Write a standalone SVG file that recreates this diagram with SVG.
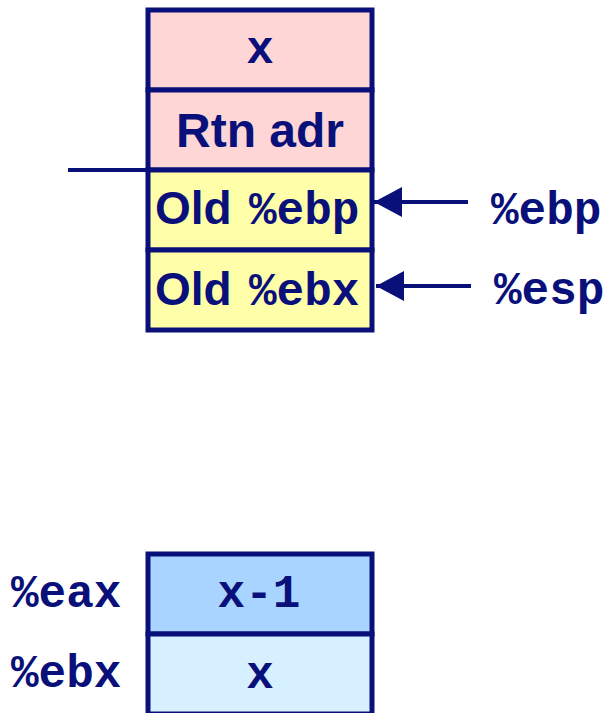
<svg xmlns="http://www.w3.org/2000/svg" width="614" height="713" viewBox="0 0 614 713">
  <defs>
    <style>
      .cell { stroke: #0A107A; stroke-width: 5; }
      .pink { fill: #FFD6D6; }
      .yellow { fill: #FFFFAA; }
      .blue { fill: #A8D4FF; }
      .lblue { fill: #D6F0FF; }
      .sans { font-family: "Liberation Sans", Arial, sans-serif; font-weight: bold; font-size: 46px; fill: #0A107A; }
      .big { font-size: 48px; }
      .mono { font-family: "Liberation Mono", "Courier New", monospace; font-weight: bold; font-size: 46px; fill: #0A107A; }
      .conn { stroke: #0A107A; stroke-width: 4; fill: none; }
    </style>
    <marker id="arrow" markerUnits="userSpaceOnUse" markerWidth="28" markerHeight="30" viewBox="0 0 28 30" refX="28" refY="15" orient="auto">
      <path d="M0,0 L28,15 L0,30 z" fill="#0A107A"/>
    </marker>
  </defs>

  <g id="stack">
    <g id="cell-x">
      <rect class="cell pink" x="148" y="10" width="224" height="80"/>
      <text class="mono" x="260" y="63" text-anchor="middle">x</text>
    </g>
    <g id="cell-rtn">
      <rect class="cell pink" x="148" y="90" width="224" height="80"/>
      <text class="sans big" x="260" y="147" text-anchor="middle">Rtn adr</text>
    </g>
    <g id="cell-oldebp">
      <rect class="cell yellow" x="148" y="170" width="224" height="80"/>
      <text class="sans" x="155" y="224">Old</text>
      <text class="mono" x="249" y="224">%ebp</text>
    </g>
    <g id="cell-oldebx">
      <rect class="cell yellow" x="148" y="250" width="224" height="80"/>
      <text class="sans" x="155" y="305">Old</text>
      <text class="mono" x="249" y="305">%ebx</text>
    </g>
  </g>

  <g id="label-ebp">
    <text class="mono" x="491" y="224">%ebp</text>
  </g>
  <g id="label-esp">
    <text class="mono" x="494" y="304">%esp</text>
  </g>

  <g id="registers">
    <g id="reg-eax">
      <text class="mono" x="11" y="607">%eax</text>
      <rect class="cell blue" x="148" y="554" width="224" height="80"/>
      <text class="mono" x="259" y="607" text-anchor="middle">x-1</text>
    </g>
    <g id="reg-ebx">
      <text class="mono" x="11" y="687">%ebx</text>
      <rect class="cell lblue" x="148" y="634" width="224" height="80"/>
      <text class="mono" x="260" y="688" text-anchor="middle">x</text>
    </g>
  </g>

  <g id="connectors">
    <line class="conn" x1="68" y1="170" x2="148" y2="170"/>
    <line class="conn" x1="468" y1="202" x2="374" y2="202" marker-end="url(#arrow)"/>
    <line class="conn" x1="471" y1="286" x2="376" y2="286" marker-end="url(#arrow)"/>
  </g>
</svg>
